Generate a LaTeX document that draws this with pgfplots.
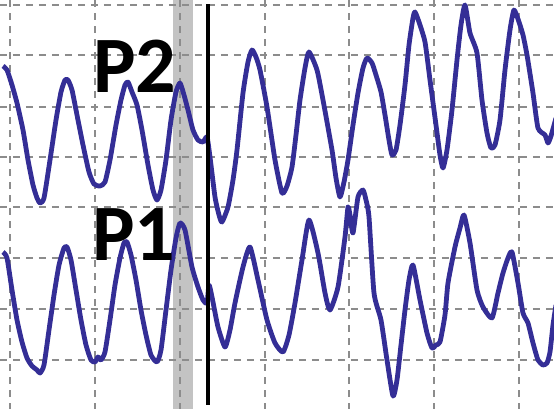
\documentclass[border=0pt]{standalone}
\usepackage{fontspec}
\usepackage{pgfplots}
\pgfplotsset{compat=1.18}
\newfontfamily\carlito{Carlito}
\definecolor{trace}{RGB}{52,46,150}
\definecolor{gridc}{RGB}{140,140,140}
\definecolor{band}{RGB}{195,195,195}
\begin{document}
\begin{tikzpicture}
\pgfplotsset{set layers}
\begin{axis}[
  scale only axis, width=277pt, height=204.5pt,
  xmin=0, xmax=554, ymin=0, ymax=409, y dir=reverse,
  axis line style={draw=none},
  xtick={10,95,180,265,349,434,519},
  ytick={5,55,107,157,207,258,309,360},
  xticklabels={}, yticklabels={},
  major tick length=0pt,
  grid=major,
  major grid style={gridc, line width=1pt, dash pattern=on 3.5pt off 3pt},
  clip=true,
]
\addplot[fill=band, draw=none, on layer=axis background] coordinates {(173,0)(193,0)(193,409)(173,409)} -- cycle;
\addplot[trace, line width=2.4pt, line join=round, smooth, tension=0.35] coordinates {
(3,66)(7,70)(12,85)(17,103)(23,130)(28,160)(33,185)(37,198)(40,203)(44,198)(50,160)(56,120)(61,92)(65,80)(68,80)(72,90)(77,115)(83,145)(89,172)(94,184)(100,186)(105,182)(110,160)(116,125)(121,100)(125,85)(128,82)(132,92)(137,105)(142,130)(148,165)(153,190)(157,200)(161,190)(166,160)(171,120)(176,92)(180,83)(184,95)(188,110)(193,130)(198,140)(203,142)(207,137)(210,157)(215,197)(219,215)(222,222)(228,207)(233,180)(237,150)(243,93)(248,62)(252,50)(256,57)(260,70)(267,107)(275,160)(282,193)(287,186)(292,167)(296,135)(300,100)(305,68)(309,52)(317,70)(323,100)(332,150)(336,178)(340,197)(344,182)(348,160)(353,125)(358,93)(363,68)(367,58)(372,63)(376,75)(381,92)(385,115)(389,140)(392,155)(396,150)(400,125)(405,85)(409,45)(413,18)(415,12)(419,22)(425,42)(430,80)(436,125)(440,155)(443,168)(447,150)(452,110)(457,60)(461,25)(465,5)(470,33)(477,53)(482,100)(487,133)(491,148)(495,145)(500,120)(505,70)(510,30)(514,10)(519,22)(523,35)(527,55)(533,93)(538,128)(545,135)(548,143)(551,136)(556,118)
};
\addplot[trace, line width=2.4pt, line join=round, smooth, tension=0.35] coordinates {
(3,252)(7,258)(12,290)(17,320)(22,342)(27,358)(32,366)(37,370)(40,373)(44,365)(49,330)(54,295)(59,265)(64,248)(67,247)(71,260)(76,290)(81,320)(86,345)(91,360)(95,362)(98,357)(101,360)(105,352)(110,320)(115,285)(120,258)(124,243)(127,242)(131,255)(136,280)(141,310)(146,335)(151,355)(157,362)(161,350)(166,310)(171,270)(176,238)(180,223)(185,230)(192,267)(198,287)(203,300)(207,303)(209,285)(212,297)(218,327)(225,347)(230,330)(235,303)(243,267)(250,247)(258,280)(267,320)(275,343)(283,352)(289,335)(295,303)(302,260)(309,220)(318,253)(325,293)(330,310)(338,287)(345,237)(348,207)(350,215)(353,233)(358,197)(363,190)(366,200)(369,217)(374,293)(381,320)(387,360)(393,396)(397,380)(401,345)(405,310)(409,280)(413,265)(420,300)(427,333)(432,348)(436,345)(440,342)(445,315)(448,283)(455,247)(460,228)(464,215)(470,243)(477,290)(483,307)(492,318)(498,293)(503,273)(508,258)(512,252)(518,283)(523,313)(528,323)(533,343)(538,360)(543,365)(547,363)(550,352)(553,325)(556,305)
};
\addplot[black, line width=1.6pt] coordinates {(208,4)(208,405)};
\node[font=\carlito\bfseries\fontsize{40}{40}\selectfont, text=black, inner sep=0pt] at (axis cs:135,66) {P2};
\node[font=\carlito\bfseries\fontsize{40}{40}\selectfont, text=black, inner sep=0pt] at (axis cs:134,235) {P1};
\end{axis}
\pgfresetboundingbox
\useasboundingbox (current axis.south west) rectangle (current axis.north east);
\end{tikzpicture}
\end{document}
